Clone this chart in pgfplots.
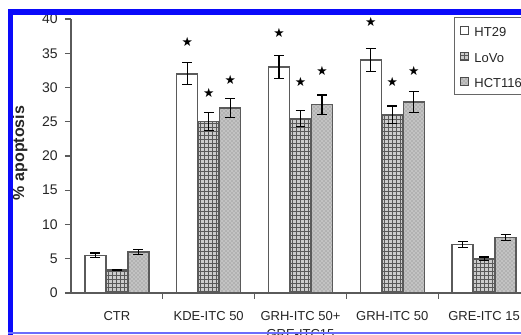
\documentclass[border=0pt]{standalone}
\usepackage{pgfplots}
\pgfplotsset{compat=1.18}
\usepackage{fontspec}
\setmainfont{Liberation Sans}
\newfontfamily\dejavu{DejaVu Sans}
\usetikzlibrary{patterns}
\definecolor{axgray}{RGB}{90,90,90}
\definecolor{frameblue}{RGB}{10,10,250}
\begin{document}
\begin{tikzpicture}
\path[use as bounding box] (0pt,0pt) rectangle (390.75pt,251.25pt);
\clip (0pt,0pt) rectangle (390.75pt,251.25pt);
\fill[white] (0pt,0pt) rectangle (390.75pt,251.25pt);
\begin{axis}[
  at={(53.25pt,31.5pt)}, anchor=south west,
  scale only axis, width=344.25pt, height=205.5pt,
  xmin=-0.5, xmax=4.5, ymin=0, ymax=40,
  clip=false,
  axis lines=left,
  axis line style={-, draw=axgray, line width=1.1pt},
  tick align=outside, major tick length=4.5pt,
  every tick/.style={draw=axgray, line width=0.9pt},
  ytick={0,5,...,40},
  /pgf/number format/assume math mode=true,
  yticklabel style={font=\fontsize{10.5pt}{12pt}\selectfont, text=black!85, xshift=-2pt},
  xtick={0.5,1.5,2.5,3.5}, xticklabels={},
  extra x ticks={0,1,2,3,4},
  extra x tick labels={CTR, KDE-ITC 50, {GRH-ITC 50+\\GRE-ITC15}, GRH-ITC 50, GRE-ITC 15},
  extra x tick style={major tick length=0pt,
     tick label style={align=center, font=\fontsize{9.75pt}{13.5pt}\selectfont, text=black!85, yshift=-10.5pt}},
  every axis y label/.style={at={(axis description cs:-0.111,0.511)}, rotate=90, anchor=center,
     font=\fontsize{12pt}{14pt}\selectfont\bfseries, text=black!85},
  ylabel={\% apoptosis},
  legend image code/.code={\draw[#1, line width=0.7pt] (0pt,-3pt) rectangle (6pt,3pt);},
  legend cell align=left,
  legend style={at={(axis description cs:0.834,1.007)}, anchor=north west,
     draw=black!60, line width=0.6pt, font=\fontsize{9.75pt}{11pt}\selectfont, text=black!85,
     inner xsep=4pt, inner ysep=4.3pt, row sep=7.75pt, column sep=3.5pt,
     nodes={inner sep=1pt, text height=9.25pt, text depth=0pt}},
  legend style={nodes={text width=44pt}},
]
\addlegendimage{fill=white, draw=black!70}
\addlegendentry{HT29}
\addlegendimage{fill=gray!40, draw=black!70, postaction={pattern=grid, pattern color=black!65}}
\addlegendentry{LoVo}
\addlegendimage{fill=gray!60, draw=black!70, postaction={pattern=crosshatch dots, pattern color=white}}
\addlegendentry{HCT116}

% HT29 bars
\addplot[forget plot, ybar, bar width=0.229, bar shift=-0.234, fill=white, draw=axgray, line width=1.1pt]
  coordinates {(0,5.5) (1,32.0) (2,33.0) (3,34.0) (4,7.1)};
% LoVo bars
\addplot[forget plot, ybar, bar width=0.229, bar shift=0, fill=gray!40, draw=axgray, line width=1.1pt,
  postaction={pattern=grid, pattern color=black!65}]
  coordinates {(0,3.35) (1,25.0) (2,25.5) (3,26.0) (4,5.0)};
% HCT116 bars
\addplot[forget plot, ybar, bar width=0.229, bar shift=0.234, fill=gray!60, draw=axgray, line width=1.1pt,
  postaction={pattern=crosshatch dots, pattern color=white}]
  coordinates {(0,6.0) (1,27.0) (2,27.5) (3,27.9) (4,8.1)};

% error bars (at the bar centres)
\pgfplotsset{myerr/.style={forget plot, draw=none, mark=none,
  error bars/.cd, y dir=both, y explicit,
  error bar style={draw=black, line width=0.9pt},
  error mark options={rotate=90, mark size=3.7pt, line width=0.9pt, draw=black}}}
\addplot[myerr] coordinates {(-0.234,5.5) +- (0,0.35) (0.766,32.0) +- (0,1.6) (1.766,33.0) +- (0,1.7) (2.766,34.0) +- (0,1.7) (3.766,7.1) +- (0,0.4)};
\addplot[myerr] coordinates {(0,3.35) +- (0,0.1) (1,25.0) +- (0,1.3) (2,25.5) +- (0,1.2) (3,26.0) +- (0,1.3) (4,5.0) +- (0,0.25)};
\addplot[myerr] coordinates {(0.234,6.0) +- (0,0.35) (1.234,27.0) +- (0,1.4) (2.234,27.5) +- (0,1.4) (3.234,27.9) +- (0,1.5) (4.234,8.1) +- (0,0.4)};

% significance stars
\addplot[forget plot, only marks, mark=text, text mark={\dejavu\fontsize{9.5pt}{9.5pt}\selectfont ★}, mark options={black}]
  coordinates {(0.766,36.6) (1,29.2) (1.234,31.1)
               (1.766,38.0) (2,30.8) (2.234,32.4)
               (2.766,39.5) (3,30.8) (3.234,32.4)};
\end{axis}
% blue frame of the cropped figure
\fill[frameblue] (6pt,240pt) rectangle (390.75pt,244.5pt);
\fill[frameblue] (6pt,0pt) rectangle (9.75pt,244.5pt);
\draw[frameblue!60, line width=1.2pt] (6pt,1.5pt) -- (390.75pt,1.5pt);
\end{tikzpicture}
\end{document}
